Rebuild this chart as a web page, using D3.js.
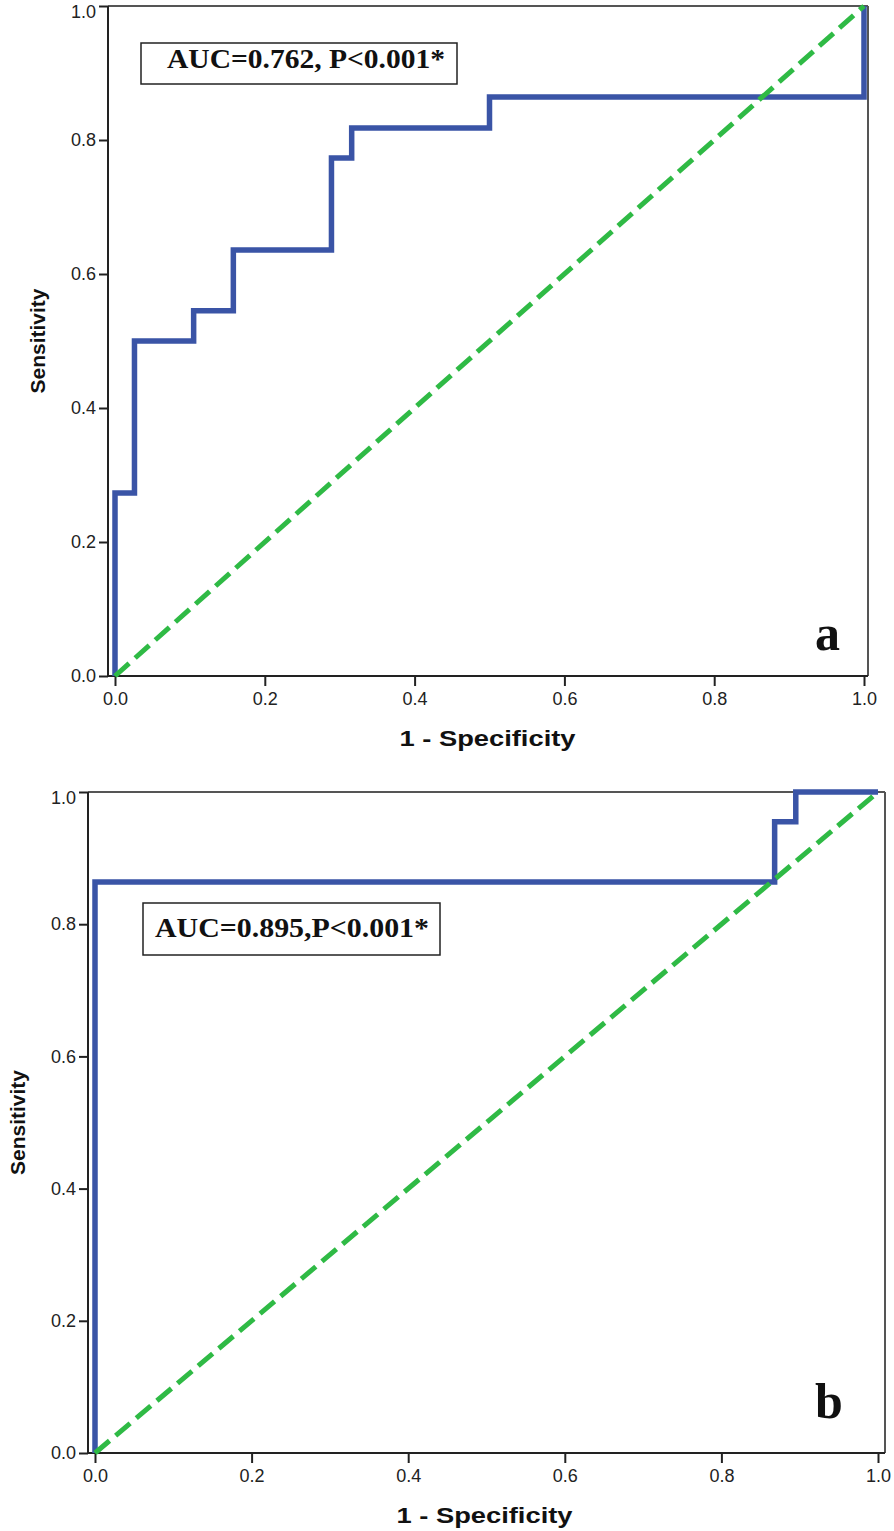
<!DOCTYPE html>
<html>
<head>
<meta charset="utf-8">
<script src="https://cdn.jsdelivr.net/npm/d3@7"></script>
<style>
  html, body { margin: 0; padding: 0; background: #fff; }
  svg { display: block; }
</style>
</head>
<body>
<svg id="chart" width="894" height="1531"></svg>
<script>
// ---- Data ----
const tickValues = [0, 0.2, 0.4, 0.6, 0.8, 1.0];

// Panel a ROC curve corners (1 - Specificity, Sensitivity)
const fprA  = [0, 0, 0.026, 0.026, 0.105, 0.105, 0.158, 0.158, 0.289, 0.289, 0.316, 0.316, 0.5, 0.5, 1, 1];
const sensA = [0, 0.273, 0.273, 0.5, 0.5, 0.545, 0.545, 0.636, 0.636, 0.773, 0.773, 0.818, 0.818, 0.864, 0.864, 1];

// Panel b ROC curve corners
const fprB  = [0, 0, 0.868, 0.868, 0.895, 0.895, 1];
const sensB = [0, 0.864, 0.864, 0.955, 0.955, 1, 1];

// Reference diagonal
const refX = [0, 1];
const refY = [0, 1];

const labelA = "AUC=0.762, P<0.001*";
const labelB = "AUC=0.895,P<0.001*";
const xTitle = "1 - Specificity";
const yTitle = "Sensitivity";

// ---- Drawing ----
const svg = d3.select("#chart");
svg.append("rect").attr("width", 894).attr("height", 1531).attr("fill", "#fff");

function panel(cfg) {
  const x = d3.scaleLinear().domain([0, 1]).range(cfg.xr);
  const y = d3.scaleLinear().domain([0, 1]).range(cfg.yr);
  const g = svg.append("g");
  const axL = x(0) - 7, axR = x(1) + cfg.rightPad;

  // frame: top + right
  g.append("line").attr("x1", axL).attr("x2", axR).attr("y1", y(1)).attr("y2", y(1))
    .attr("stroke", "#555").attr("stroke-width", 2);
  g.append("line").attr("x1", axR).attr("x2", axR).attr("y1", y(1)).attr("y2", y(0))
    .attr("stroke", "#555").attr("stroke-width", 2);

  // axes
  const yAxis = d3.axisLeft(y).tickValues(tickValues).tickFormat(d3.format(".1f"))
    .tickSize(9).tickPadding(3).tickSizeOuter(0);
  const gy = g.append("g").attr("transform", `translate(${axL},0)`).call(yAxis);
  const xAxis = d3.axisBottom(x).tickValues(tickValues).tickFormat(d3.format(".1f"))
    .tickSize(10).tickPadding(6).tickSizeOuter(0);
  const gx = g.append("g").attr("transform", `translate(0,${y(0)})`).call(xAxis);
  gx.select(".domain").remove();
  gy.select(".domain").remove();
  g.append("line").attr("x1", axL).attr("x2", axL).attr("y1", y(1)).attr("y2", y(0))
    .attr("stroke", "#222").attr("stroke-width", 2);
  g.append("line").attr("x1", axL).attr("x2", axR).attr("y1", y(0)).attr("y2", y(0))
    .attr("stroke", "#222").attr("stroke-width", 2);
  [gx, gy].forEach(a => {
    a.selectAll(".tick line").attr("stroke", "#222").attr("stroke-width", 2);
    a.selectAll(".tick text").attr("fill", "#222")
      .style("font-family", "'Liberation Sans', Arial, sans-serif").style("font-size", "18px");
  });
  // keep the top y label inside the page
  gy.selectAll(".tick text").filter(d => d === 1).attr("dy", "0.62em");

  // ROC curve
  const line = d3.line().x(d => x(d[0])).y(d => y(d[1]));
  g.append("path").datum(cfg.fx.map((v, i) => [v, cfg.sy[i]]))
    .attr("d", line).attr("fill", "none").attr("stroke", "#3a54a6")
    .attr("stroke-width", 5.5).attr("stroke-linejoin", "miter").attr("stroke-linecap", "butt");

  // reference line
  g.append("path").datum(refX.map((v, i) => [v, refY[i]]))
    .attr("d", line).attr("fill", "none").attr("stroke", "#2fba45")
    .attr("stroke-width", 5).attr("stroke-dasharray", "19,8");

  // AUC box
  g.append("rect").attr("x", cfg.box[0]).attr("y", cfg.box[1])
    .attr("width", cfg.box[2]).attr("height", cfg.box[3])
    .attr("fill", "#fff").attr("stroke", "#222").attr("stroke-width", 1.5);
  g.append("text").attr("x", cfg.box[0] + cfg.textDx).attr("y", cfg.textY)
    .attr("textLength", cfg.textLen).attr("lengthAdjust", "spacingAndGlyphs")
    .style("font-family", "'Liberation Serif', 'Times New Roman', serif")
    .style("font-weight", "bold").style("font-size", "27px").attr("fill", "#111")
    .text(cfg.label);

  // panel letter
  g.append("text").attr("x", cfg.letter[0]).attr("y", cfg.letter[1])
    .style("font-family", "'Liberation Serif', 'Times New Roman', serif")
    .style("font-weight", "bold").style("font-size", "50px").attr("fill", "#111")
    .text(cfg.letterText);

  // axis titles
  g.append("text").attr("x", (x(0) + x(1)) / 2 - 2).attr("y", y(0) + 70)
    .attr("text-anchor", "middle")
    .attr("textLength", 176).attr("lengthAdjust", "spacingAndGlyphs")
    .style("font-family", "'Liberation Sans', Arial, sans-serif")
    .style("font-weight", "bold").style("font-size", "22px").attr("fill", "#111")
    .text(xTitle);
  g.append("text")
    .attr("transform", `translate(${cfg.yTitleX},${(y(0) + y(1)) / 2}) rotate(-90)`)
    .attr("text-anchor", "middle")
    .style("font-family", "'Liberation Sans', Arial, sans-serif")
    .style("font-weight", "bold").style("font-size", "21px").attr("fill", "#111")
    .text(yTitle);
}

panel({
  xr: [115, 864], yr: [676, 6], rightPad: 4,
  fx: fprA, sy: sensA,
  box: [141, 43, 316, 41], textDx: 26, textY: 68, textLen: 278, label: labelA,
  letter: [815, 650], letterText: "a", yTitleX: 45
});

panel({
  xr: [95, 878], yr: [1453, 792], rightPad: 7,
  fx: fprB, sy: sensB,
  box: [143, 903, 297, 52], textDx: 12, textY: 937, textLen: 274, label: labelB,
  letter: [815, 1418], letterText: "b", yTitleX: 25
});
</script>
</body>
</html>
